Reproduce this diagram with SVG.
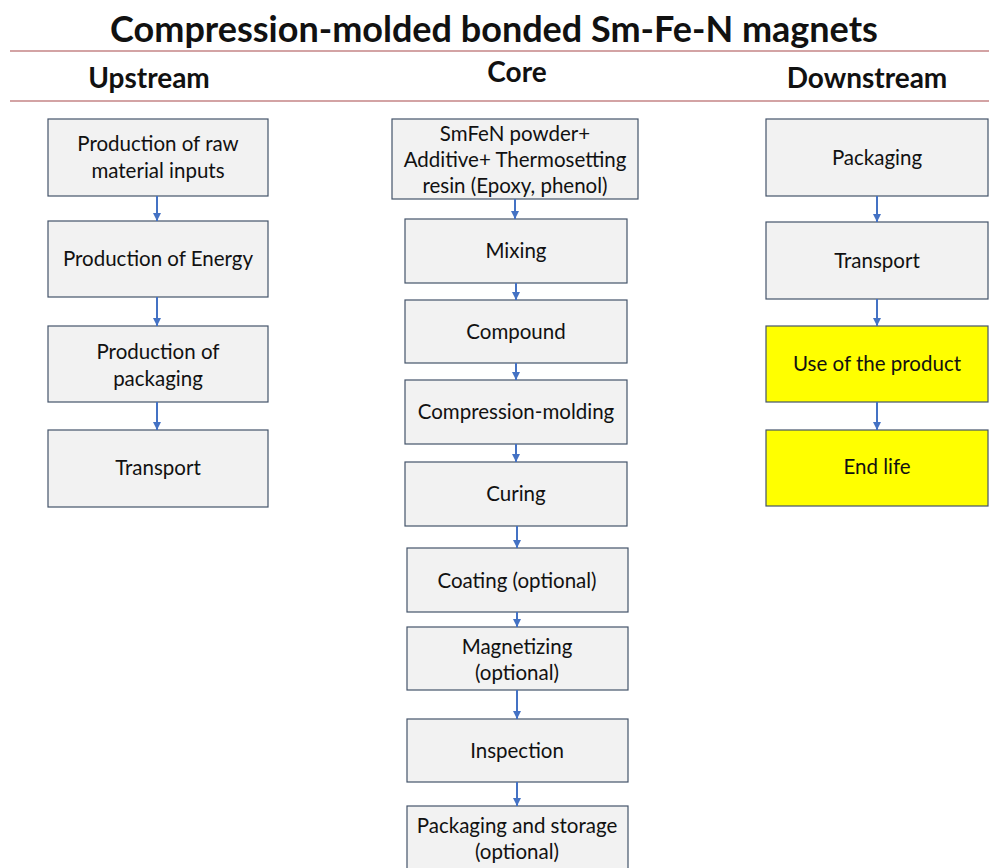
<svg xmlns="http://www.w3.org/2000/svg" width="989" height="868" viewBox="0 0 989 868">
<defs>
<marker id="ah" viewBox="0 0 8 8" refX="8" refY="4" markerWidth="8" markerHeight="8" markerUnits="userSpaceOnUse" orient="auto">
<path d="M0,0 L8,4 L0,8 z" fill="#4472c4"/>
</marker>
<style>
.box{fill:#f2f2f2;stroke:#44546a;stroke-width:1.2}
.yel{fill:#ffff00;stroke:#44546a;stroke-width:1.2}
.t{font-family:Lato,"Liberation Sans",sans-serif;font-size:20.5px;fill:#111;text-anchor:middle}
.h{font-family:Lato,"Liberation Sans",sans-serif;font-size:28px;font-weight:bold;fill:#111;text-anchor:middle}
.title{font-family:Lato,"Liberation Sans",sans-serif;font-size:36px;font-weight:bold;fill:#111;text-anchor:middle}
.rule{stroke:#a8484a;stroke-width:1.2}
.c{stroke:#4472c4;stroke-width:2;fill:none;marker-end:url(#ah)}
</style>
</defs>
<rect width="989" height="868" fill="#ffffff"/>
<text class="title" x="494" y="42">Compression-molded bonded Sm-Fe-N magnets</text>
<line class="rule" x1="10" y1="51" x2="989" y2="51"/>
<line class="rule" x1="10" y1="101" x2="989" y2="101"/>
<text class="h" x="149" y="88">Upstream</text>
<text class="h" x="517" y="82">Core</text>
<text class="h" x="867" y="88">Downstream</text>

<g id="u1"><rect class="box" x="48" y="119" width="220" height="77"/><text class="t" x="158" y="151">Production of raw</text><text class="t" x="158" y="178">material inputs</text></g>
<g id="u2"><rect class="box" x="48" y="221" width="220" height="76"/><text class="t" x="158" y="266">Production of Energy</text></g>
<g id="u3"><rect class="box" x="48" y="326" width="220" height="76"/><text class="t" x="158" y="359">Production of</text><text class="t" x="158" y="386">packaging</text></g>
<g id="u4"><rect class="box" x="48" y="430" width="220" height="77"/><text class="t" x="158" y="475">Transport</text></g>

<g id="c0"><rect class="box" x="392" y="119" width="246" height="80"/><text class="t" x="515" y="141">SmFeN powder+</text><text class="t" x="515" y="167">Additive+ Thermosetting</text><text class="t" x="515" y="193">resin (Epoxy, phenol)</text></g>
<g id="c1"><rect class="box" x="405" y="219" width="222" height="64"/><text class="t" x="516" y="258">Mixing</text></g>
<g id="c2"><rect class="box" x="405" y="300" width="222" height="63"/><text class="t" x="516" y="339">Compound</text></g>
<g id="c3"><rect class="box" x="405" y="380" width="222" height="64"/><text class="t" x="516" y="419">Compression-molding</text></g>
<g id="c4"><rect class="box" x="405" y="462" width="222" height="64"/><text class="t" x="516" y="501">Curing</text></g>
<g id="c5"><rect class="box" x="407" y="548" width="221" height="64"/><text class="t" x="517" y="588">Coating (optional)</text></g>
<g id="c6"><rect class="box" x="407" y="627" width="221" height="63"/><text class="t" x="517" y="654">Magnetizing</text><text class="t" x="517" y="680">(optional)</text></g>
<g id="c7"><rect class="box" x="407" y="719" width="221" height="63"/><text class="t" x="517" y="758">Inspection</text></g>
<g id="c8"><rect class="box" x="407" y="806" width="221" height="70"/><text class="t" x="517" y="833">Packaging and storage</text><text class="t" x="517" y="859">(optional)</text></g>

<g id="d1"><rect class="box" x="766" y="119" width="222" height="77"/><text class="t" x="877" y="165">Packaging</text></g>
<g id="d2"><rect class="box" x="766" y="222" width="222" height="77"/><text class="t" x="877" y="268">Transport</text></g>
<g id="d3"><rect class="yel" x="766" y="326" width="222" height="76"/><text class="t" x="877" y="371">Use of the product</text></g>
<g id="d4"><rect class="yel" x="766" y="430" width="222" height="76"/><text class="t" x="877" y="474">End life</text></g>

<g id="connectors">
<path class="c" d="M157,196 V221"/>
<path class="c" d="M157,297 V326"/>
<path class="c" d="M157,402 V430"/>
<path class="c" d="M515,199 V219"/>
<path class="c" d="M516,283 V300"/>
<path class="c" d="M516,363 V380"/>
<path class="c" d="M516,444 V462"/>
<path class="c" d="M517,526 V548"/>
<path class="c" d="M517,612 V627"/>
<path class="c" d="M517,690 V719"/>
<path class="c" d="M517,782 V806"/>
<path class="c" d="M877,196 V222"/>
<path class="c" d="M877,299 V326"/>
<path class="c" d="M877,402 V430"/>
</g>
</svg>
